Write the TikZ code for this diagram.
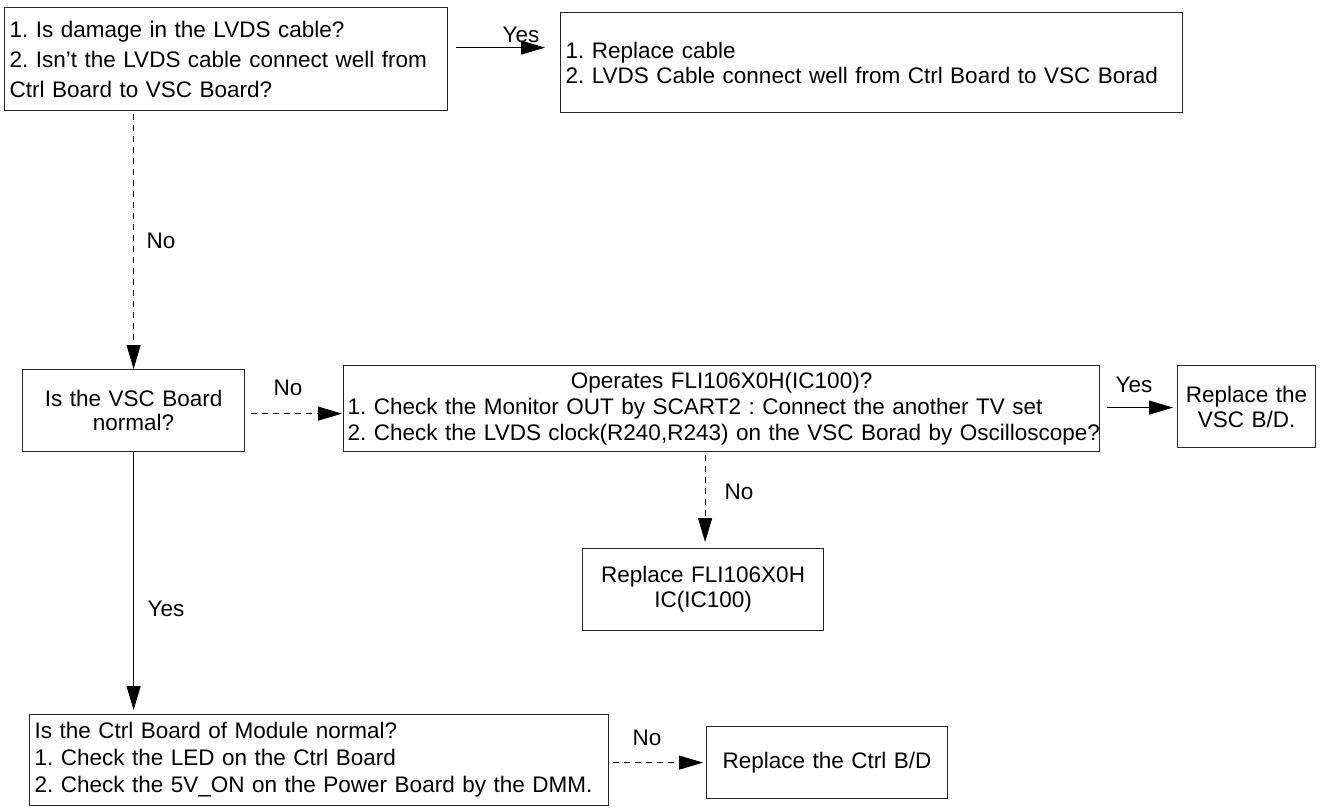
\documentclass[tikz,border=0pt]{standalone}
\usepackage{fontspec}
\setmainfont{Liberation Sans}
\usetikzlibrary{arrows.meta,calc}
\newcommand\myfs[1]{\fontsize{22.5}{#1}\selectfont\frenchspacing\hyphenpenalty=10000\exhyphenpenalty=10000}
\begin{document}
\begin{tikzpicture}[x=1pt,y=-1pt,
  box/.style={draw=black!85, line width=1.2pt, anchor=north west, inner xsep=5pt, inner ysep=0pt},
  lbox/.style={box, align=left},
  cbox/.style={box, align=center},
  lbl/.style={inner sep=0pt, font=\myfs{25}},
  arr/.style={line width=1pt, -{Triangle[length=24pt,width=14pt]}},
  dsh/.style={arr, dash pattern=on 6pt off 5pt}
]
\useasboundingbox (0,0) rectangle (1323,807);

\node[lbox, minimum width=443pt, minimum height=103pt, text width=433pt, font=\myfs{30}] (A) at (4,7)
  {1. Is damage in the LVDS cable?\\2. Isn’t the LVDS cable connect well from\\Ctrl Board to VSC Board?};
\node[lbox, minimum width=622pt, minimum height=100pt, text width=612pt, font=\myfs{25}] (B) at (560,12)
  {1. Replace cable\\2. LVDS Cable connect well from Ctrl Board to VSC Borad};
\node[cbox, minimum width=222pt, minimum height=82pt, text width=212pt, font=\myfs{24}] (C) at (22,369)
  {Is the VSC Board\\normal?};
\node[lbox, minimum width=756pt, minimum height=86pt, text width=748pt, inner xsep=4pt, font=\myfs{26}] (D) at (343,365)
  {\hbox to \hsize{\hfil Operates FLI106X0H(IC100)?\hfil}\\\mbox{1. Check the Monitor OUT by SCART2 : Connect the another TV set}\\\mbox{2. Check the LVDS clock(R240,R243) on the VSC Borad by Oscilloscope?}};
\node[cbox, minimum width=138pt, minimum height=82pt, text width=128pt, font=\myfs{25}] (E) at (1177,365)
  {Replace the\\VSC B/D.};
\node[cbox, minimum width=241pt, minimum height=82pt, text width=231pt, font=\myfs{25}] (F) at (582,548)
  {Replace FLI106X0H\\IC(IC100)};
\node[lbox, minimum width=579pt, minimum height=91pt, text width=569pt, font=\myfs{27}] (G) at (29,714)
  {Is the Ctrl Board of Module normal?\\1. Check the LED on the Ctrl Board\\2. Check the 5V\_ON on the Power Board by the DMM.};
\node[cbox, minimum width=241pt, minimum height=72pt, text width=231pt, font=\myfs{25}] (H) at (706,726)
  {Replace the Ctrl B/D};

% connectors
\draw[arr] ($(A.east)+(8,-11.5)$) -- ($(A.east -| B.west)+(-15,-11.5)$);
\draw[dsh] ($(A.south -| C.north)+(0,3)$) -- (C.north);
\draw[dsh] ($(C.east)+(6,3)$) -- ($(C.east -| D.west)+(-1,3)$);
\draw[arr] ($(D.east)+(7,-1)$) -- ($(D.east -| E.west)+(-4,-1)$);
\draw[dsh] ($(D.south -| F.north)+(2,3)$) -- ($(F.north)+(2,-6)$);
\draw[arr] (C.south) -- ($(C.south |- G.north)+(0,-4)$);
\draw[dsh] ($(H.west -| G.east)+(4,0)$) -- ($(H.west)+(-3,0)$);

% labels
\node[lbl] (l1) at (521,35) {Yes};
\node[lbl] (l2) at (161,241) {No};
\node[lbl] (l3) at (288,388) {No};
\node[lbl] (l4) at (1134,385) {Yes};
\node[lbl] (l5) at (739,492) {No};
\node[lbl] (l6) at (166,609) {Yes};
\node[lbl] (l7) at (647,738) {No};
\end{tikzpicture}
\end{document}
